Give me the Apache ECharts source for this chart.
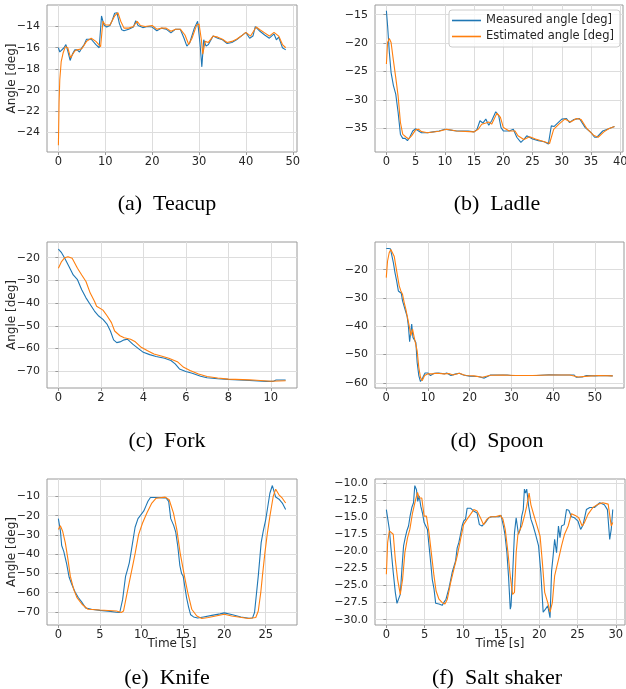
<!DOCTYPE html>
<html>
<head>
<meta charset="utf-8">
<script src="https://cdn.jsdelivr.net/npm/echarts@6/dist/echarts.min.js"></script>
<style>html,body{margin:0;padding:0;background:#fff}#chart{width:626px;height:689px}</style>
</head>
<body>
<div id="chart"></div>
<script>
// ---- data ----
var seriesNames = ['Measured angle [deg]', 'Estimated angle [deg]'];
var captions = ['(a)\u2002Teacup', '(b)\u2002Ladle', '(c)\u2002Fork', '(d)\u2002Spoon', '(e)\u2002Knife', '(f)\u2002Salt shaker'];

var teacupMeasT = [0,0.3,0.6,1.2,1.6,2.0,2.5,3.0,3.5,4.0,4.5,5,5.5,6,7,8,8.7,9.2,9.7,10.3,11,11.5,12,12.5,13,13.5,14,15,16,16.5,17,18,19,20,21,22,23,24,25,26,26.8,27.4,28,29,29.7,30.2,30.6,31,31.5,32,33,34,35,36,37,38,39,40,40.8,41.5,42,43,44,45,46,46.5,47,47.8,48.5];
var teacupMeas = [-16.0,-16.4,-16.5,-16.0,-15.7,-16.3,-17.2,-16.6,-16.2,-16.2,-16.4,-16.0,-15.7,-15.2,-15.2,-15.7,-16.0,-13.0,-13.85,-14.05,-13.9,-13.4,-12.75,-12.7,-13.7,-14.3,-14.4,-14.25,-14.05,-13.45,-13.9,-14.1,-14.0,-14.05,-14.4,-14.15,-14.25,-14.6,-14.25,-14.25,-15.1,-15.85,-15.55,-14.15,-13.5,-15.55,-17.8,-15.25,-15.85,-15.7,-14.9,-15.1,-15.25,-15.6,-15.5,-15.25,-14.9,-14.55,-15.1,-14.9,-14.0,-14.45,-14.8,-15.1,-14.7,-15.25,-15.0,-16.0,-16.2];
var teacupEstT = [0,0.15,0.3,0.6,1.0,1.5,2.0,2.6,3.0,3.5,4.0,5,6,7,8,9,9.5,10,11,12,12.7,13.3,14,15,16,16.8,17.5,18.5,20,21,22,23,24,25,26,27,27.8,28.5,29.5,30,30.5,30.8,31.3,32,33,34,35,36,37,38,39,40,41,42.2,43,44,45,46,47,47.8,48.5];
var teacupEst = [-25.2,-21.1,-19.0,-17.3,-16.5,-15.9,-16.0,-16.95,-16.8,-16.3,-16.2,-16.1,-15.4,-15.1,-15.4,-15.9,-13.5,-13.85,-13.85,-13.0,-12.7,-13.5,-14.15,-14.15,-14.0,-13.5,-13.9,-14.0,-13.9,-14.25,-14.15,-14.15,-14.45,-14.25,-14.25,-14.8,-15.7,-15.1,-13.85,-13.75,-15.25,-16.6,-15.4,-15.5,-14.9,-15.0,-15.2,-15.5,-15.4,-15.2,-14.9,-14.55,-14.9,-14.05,-14.3,-14.6,-14.9,-14.55,-14.9,-15.7,-16.0];

var ladleMeasT = [0,0.2,0.5,0.8,1.2,1.6,2.0,2.4,2.8,3.2,3.6,4,4.5,5,5.5,6,7,8,9,10,11,12,13,14,15,15.5,16,16.5,17,17.5,18,18.7,19.2,19.6,20,21,21.7,22.3,23,23.6,24,25,26,27,27.7,28.2,28.7,29.5,30,30.8,31.3,32,33,34,35,35.6,36,37,38,39];
var ladleMeas = [-14.3,-16.9,-21.6,-25.2,-27.5,-29.0,-32.2,-36.1,-36.8,-36.8,-37.2,-36.6,-35.5,-35.1,-35.5,-35.8,-35.8,-35.65,-35.5,-35.2,-35.35,-35.5,-35.5,-35.5,-35.65,-35.2,-33.7,-34.1,-33.4,-34.5,-33.7,-32.1,-32.8,-34.9,-35.5,-35.5,-35.2,-36.6,-37.5,-36.9,-36.35,-36.9,-37.2,-37.4,-37.8,-34.6,-34.7,-33.9,-33.4,-33.3,-34.0,-33.5,-33.3,-34.9,-35.8,-36.6,-36.6,-35.5,-35.1,-34.7];
var ladleEstT = [0,0.2,0.5,0.8,1.2,1.6,2.0,2.4,2.8,3.4,3.8,4.3,5,5.5,6,7,9,10.3,12,15,15.7,16.3,17,17.5,18,18.9,19.5,20,21,22,22.5,23.5,24.5,25.5,27,27.9,28.6,29.5,30.5,31.5,32.5,33.3,34.3,35.5,36.2,37.2,38,39];
var ladleEst = [-23.7,-19.9,-19.2,-19.9,-23.1,-26.1,-29.3,-34.0,-36.1,-36.6,-36.9,-36.35,-35.3,-35.2,-35.6,-35.8,-35.55,-35.2,-35.5,-35.65,-35.2,-34.3,-34.1,-33.9,-34.3,-32.35,-33.1,-34.9,-35.5,-35.5,-36.35,-37.0,-36.5,-36.9,-37.4,-37.7,-35.2,-34.3,-33.4,-33.9,-33.3,-33.5,-35.1,-36.3,-36.6,-35.65,-35.1,-34.7];

var forkMeasT = [0,0.15,0.3,0.5,0.7,0.9,1.1,1.3,1.5,1.7,1.9,2.1,2.3,2.45,2.6,2.75,2.9,3.1,3.25,3.5,3.8,4.0,4.3,4.6,5.0,5.3,5.5,5.7,6.0,6.3,6.7,7.0,7.5,8,9,9.8,10.1,10.25,10.7];
var forkMeas = [-16.2,-17.8,-20.3,-23.9,-27.6,-29.7,-34.1,-37.7,-40.6,-43.5,-45.7,-47.2,-49.4,-52.3,-56.2,-57.4,-57.1,-56.2,-55.9,-58.1,-60.3,-61.7,-62.7,-63.5,-64.3,-65.3,-66.8,-69.0,-70.1,-70.9,-72.2,-72.9,-73.3,-73.6,-74.1,-74.5,-74.5,-73.9,-73.9];
var forkEstT = [0,0.15,0.3,0.45,0.65,0.9,1.1,1.3,1.5,1.7,1.8,2.1,2.3,2.5,2.65,2.9,3.1,3.4,3.6,3.9,4.2,4.5,4.8,5.2,5.6,5.9,6.2,6.6,7.0,7.5,8,9,10,10.7];
var forkEst = [-24.65,-21.7,-20.0,-19.6,-20.3,-24.65,-27.6,-30.5,-35.6,-39.2,-41.4,-43.1,-45.7,-48.6,-52.3,-54.4,-55.3,-55.9,-56.9,-59.5,-61.0,-62.4,-63.2,-64.3,-65.8,-68.3,-69.7,-71.2,-72.3,-73.0,-73.5,-73.8,-74.4,-74.2];

var spoonMeasT = [0,0.5,1.0,1.4,1.7,2.1,2.5,2.9,3.3,3.6,3.9,4.2,4.6,5.0,5.3,5.6,5.9,6.1,6.4,6.8,7.1,7.4,7.8,8.2,8.7,9.3,10,10.6,11.5,12.5,14,14.5,15.5,16.5,17.5,18.5,20,22,23.5,25,27,29,30,33,36,39,42,45,45.5,47,48,50,52,54.3];
var spoonMeas = [-12.5,-12.5,-12.6,-13.1,-17.5,-21.1,-24.0,-27.5,-28.1,-28.3,-31.0,-31.6,-34.5,-36.5,-39.8,-45.4,-41.6,-39.2,-43.9,-43.3,-45.7,-52.7,-57.4,-59.5,-58.3,-56.5,-56.5,-57.4,-56.6,-56.5,-56.8,-56.5,-57.4,-56.9,-56.6,-57.2,-57.6,-57.75,-58.3,-57.2,-57.2,-57.2,-57.4,-57.4,-57.4,-57.1,-57.2,-57.2,-58.0,-57.9,-57.4,-57.5,-57.4,-57.5];
var spoonEstT = [0,0.3,0.7,1.1,1.5,1.9,2.3,2.7,3.1,3.5,3.9,4.3,4.7,5.1,5.5,5.9,6.3,6.7,7.1,7.4,7.8,8.2,8.6,9.2,10,11,12,14,15,16,17.5,19,21,23,25,28,31,35,39,44,46,48.5,51,54.3];
var spoonEst = [-22.8,-17.0,-14.0,-12.85,-13.1,-15.2,-18.7,-22.2,-25.7,-27.5,-28.7,-31.6,-34.0,-36.9,-39.8,-43.3,-41.0,-43.9,-44.5,-48.6,-54.5,-58.0,-59.2,-57.4,-56.8,-56.8,-56.6,-56.8,-56.7,-57.2,-56.6,-57.4,-57.5,-58.0,-57.3,-57.2,-57.4,-57.4,-57.2,-57.2,-57.9,-57.6,-57.4,-57.5];

var knifeMeasT = [0,0.25,0.4,0.65,1.0,1.3,1.6,2.0,2.4,2.8,3.3,4,5,6,7,7.4,7.6,7.75,7.95,8.1,8.3,8.55,8.8,9.0,9.25,9.6,9.9,10.3,10.55,10.8,11.1,11.7,12.7,13.0,13.3,13.55,13.9,14.15,14.4,14.65,14.85,15.05,15.25,15.45,15.7,15.95,16.3,16.8,17.5,18.5,19.5,20,21,22,23,23.4,23.65,24.1,24.45,24.7,25.0,25.25,25.5,25.8,26.0,26.2,26.6,27.0,27.4];
var knifeMeas = [-21.5,-28,-35.5,-38.5,-45,-52,-55.5,-59.5,-62.5,-64.8,-68,-68.6,-69.2,-69.6,-70.2,-70.3,-69.5,-63.5,-56.5,-51.5,-48.5,-44.5,-38,-37,-26,-21.5,-19.8,-17.5,-15,-12.5,-10.5,-10.5,-10.7,-10.8,-12.5,-21.5,-25,-28.5,-36,-46,-50,-51.5,-57,-62.5,-67.5,-71.5,-72.6,-73.2,-72.6,-71.8,-71.0,-70.5,-71.5,-72.6,-73.3,-73.2,-70.3,-51.4,-34,-28,-22,-15.2,-8.3,-4.3,-5.2,-10.3,-11.4,-13.4,-16.8];
var knifeEstT = [0,0.24,0.52,0.84,1.16,1.44,1.85,2.25,2.85,3.57,5,7,7.58,7.86,8.14,8.54,8.95,9.27,9.67,10.15,10.67,11.27,11.79,12.88,13.36,13.88,14.28,14.68,15.2,15.6,16.08,16.69,17.29,18.09,20,20.9,22.9,23.8,24.1,24.4,24.6,24.9,25.2,25.5,25.9,26.2,26.6,27.0,27.4];
var knifeEst = [-27.2,-25.2,-28.1,-34.1,-42.8,-51.4,-58.3,-62.6,-66,-68.6,-69.0,-69.5,-70.3,-69.5,-63.4,-54.8,-46.2,-39.3,-29.8,-23.8,-18.6,-13.4,-10.9,-10.3,-11.7,-18.6,-27.2,-39.3,-51.4,-60,-68.6,-72.1,-73.4,-72.9,-71.2,-72.1,-73.4,-72.9,-69.5,-60,-51.4,-39.3,-29,-20.3,-10,-6.2,-9.1,-10.9,-13.4];

var saltMeasT = [0,0.17,0.39,0.6,0.9,1.17,1.39,1.6,1.82,2.03,2.25,2.47,2.68,2.9,3.1,3.33,3.55,3.72,3.94,4.1,4.29,4.5,4.72,4.94,5.15,5.37,5.58,5.8,6.0,6.23,6.45,6.88,7.3,7.5,7.8,8.2,8.6,9.05,9.26,9.48,9.7,9.9,10.1,10.35,10.56,11.0,11.4,11.86,12.16,12.5,12.94,13.4,13.8,14.24,14.7,15.0,15.3,15.5,15.76,15.97,16.2,16.3,16.5,16.75,16.97,17.1,17.27,17.5,17.7,17.9,18.05,18.2,18.35,18.6,18.9,19.2,19.5,19.9,20.2,20.5,20.8,21.1,21.4,21.6,21.8,22.0,22.25,22.5,22.7,22.9,23.25,23.55,23.85,24.2,24.6,25.06,25.4,25.7,26.15,26.6,27.2,27.9,28.5,28.9,29.2,29.4,29.6];
var saltMeas = [-13.9,-14.1,-16.8,-19.5,-23.1,-26.0,-27.6,-27.35,-26.3,-22.6,-19.2,-18.0,-17.0,-16.3,-14.85,-13.6,-12.9,-10.4,-11.0,-12.7,-11.9,-13.4,-14.4,-15.8,-15.6,-16.8,-19.2,-21.65,-24.1,-25.5,-27.6,-27.7,-27.9,-27.5,-27.0,-25.3,-23.1,-21.4,-19.5,-18.7,-17.5,-16.3,-15.6,-15.3,-13.7,-13.7,-14.1,-14.4,-16.1,-16.3,-15.8,-15.1,-14.95,-14.95,-14.95,-14.75,-16.3,-17.5,-20.2,-23.6,-28.45,-27.96,-23.6,-17.3,-15.1,-15.1,-17.5,-16.8,-14.85,-13.9,-10.9,-11.5,-10.9,-13.4,-15.3,-16.3,-17.5,-19.2,-23.1,-28.9,-28.45,-27.96,-29.7,-22.9,-20.7,-18.25,-20.2,-16.3,-18.0,-16.3,-16.1,-13.9,-14.0,-14.95,-15.1,-15.6,-16.8,-16.2,-13.9,-13.6,-13.6,-12.9,-13.2,-13.9,-18.25,-16.8,-13.9];
var saltEstT = [0,0.17,0.39,0.6,0.9,1.17,1.47,1.82,2.12,2.42,2.77,3.07,3.42,3.77,4.07,4.29,4.63,4.94,5.24,5.58,5.93,6.23,6.5,6.88,7.3,7.66,7.97,8.4,8.83,9.26,9.7,10.1,10.56,11.0,11.43,11.86,12.3,12.7,13.16,13.6,14.24,14.9,15.24,15.54,15.9,16.2,16.5,16.75,16.97,17.2,17.4,17.7,18.05,18.35,18.66,18.9,19.2,19.65,20.1,20.4,20.7,21.1,21.4,21.7,22.0,22.5,22.9,23.3,23.77,24.2,24.7,25.15,25.6,25.9,26.36,27.0,27.7,28.3,29.0,29.4,29.6];
var saltEst = [-23.35,-18.7,-17.0,-17.15,-17.5,-21.2,-24.1,-26.3,-24.1,-20.2,-18.0,-16.8,-14.4,-12.7,-11.4,-12.2,-12.2,-14.85,-14.85,-17.3,-20.7,-23.6,-25.8,-27.0,-27.5,-27.7,-27.0,-24.6,-22.6,-20.7,-18.25,-16.1,-15.3,-14.6,-13.9,-14.1,-15.1,-16.1,-15.3,-14.95,-14.95,-14.75,-15.3,-16.8,-20.2,-23.6,-26.3,-26.0,-20.2,-17.5,-17.5,-16.3,-14.85,-13.4,-11.5,-13.2,-14.4,-16.1,-17.8,-21.65,-26.0,-27.5,-28.9,-27.5,-23.6,-21.2,-19.2,-17.5,-16.3,-14.5,-14.75,-15.1,-16.3,-15.8,-14.6,-13.6,-13.1,-12.9,-13.1,-16.3,-15.8];

// tick labels
var teacupXTicks = [0,10,20,30,40,50], teacupYTicks = [-24,-22,-20,-18,-16,-14];
var ladleXTicks = [0,5,10,15,20,25,30,35,40], ladleYTicks = [-35,-30,-25,-20,-15];
var forkXTicks = [0,2,4,6,8,10], forkYTicks = [-70,-60,-50,-40,-30,-20];
var spoonXTicks = [0,10,20,30,40,50], spoonYTicks = [-60,-50,-40,-30,-20];
var knifeXTicks = [0,5,10,15,20,25], knifeYTicks = [-70,-60,-50,-40,-30,-20,-10];
var saltXTicks = [0,5,10,15,20,25,30], saltYTicks = [-30,-27.5,-25,-22.5,-20,-17.5,-15,-12.5,-10];

// ---- chart ----
var myChart = echarts.init(document.getElementById('chart'));
var BLUE = '#1f77b4', ORANGE = '#ff7f0e';
var tickFont = 'DejaVu Sans';

function pairs(t, v) {
  return t.map(function (x, i) { return [x, v[i]]; });
}
function minus(s) { return String(s).replace('-', '\u2212'); }

var panels = [
  { box: [47, 5, 250, 147], x: [-2.43, 50.9], y: [-25.83, -11.97], xt: teacupXTicks, yt: teacupYTicks,
    m: [teacupMeasT, teacupMeas], e: [teacupEstT, teacupEst], ylab: true },
  { box: [375, 5, 248, 147], x: [-1.95, 40.46], y: [-39.2, -13.3], xt: ladleXTicks, yt: ladleYTicks,
    m: [ladleMeasT, ladleMeas], e: [ladleEstT, ladleEst] },
  { box: [47, 242, 250, 146], x: [-0.535, 11.235], y: [-77.4, -13.1], xt: forkXTicks, yt: forkYTicks,
    m: [forkMeasT, forkMeas], e: [forkEstT, forkEst], ylab: true },
  { box: [375, 242, 249, 146], x: [-2.7, 57.0], y: [-61.8, -10.2], xt: spoonXTicks, yt: spoonYTicks,
    m: [spoonMeasT, spoonMeas], e: [spoonEstT, spoonEst] },
  { box: [47, 479, 250, 146], x: [-1.37, 28.77], y: [-76.8, -0.9], xt: knifeXTicks, yt: knifeYTicks,
    m: [knifeMeasT, knifeMeas], e: [knifeEstT, knifeEst], ylab: true, xlab: true },
  { box: [375, 479, 250, 146], x: [-1.485, 31.2], y: [-30.77, -9.43], xt: saltXTicks, yt: saltYTicks,
    m: [saltMeasT, saltMeas], e: [saltEstT, saltEst], xlab: true, dec: true }
];

var grids = [], xAxes = [], yAxes = [], series = [], graphics = [];
var captionPos = [[167, 193], [497, 193], [167, 430], [497, 430], [167, 667], [497, 667]];

panels.forEach(function (p, i) {
  grids.push({
    left: p.box[0], top: p.box[1], width: p.box[2], height: p.box[3],
    show: true, borderColor: '#9a9a9a', borderWidth: 1, outerBoundsMode: 'none'
  });
  var axisCommon = {
    type: 'value', gridIndex: i,
    axisLine: { show: false },
    splitLine: { show: true, lineStyle: { color: '#dddddd', width: 1 } },
    nameMoveOverlap: false,
    nameTextStyle: { fontFamily: tickFont, fontSize: 12, color: '#262626' }
  };
  xAxes.push(Object.assign({}, axisCommon, {
    min: p.x[0], max: p.x[1],
    axisTick: { show: true, length: 3, lineStyle: { color: '#9a9a9a' }, customValues: p.xt },
    axisLabel: { customValues: p.xt, margin: 4, fontFamily: tickFont, fontSize: 11.5, color: '#262626',
      formatter: function (v) { return minus(v); } },
    name: p.xlab ? 'Time [s]' : '', nameLocation: 'middle', nameGap: 13
  }));
  yAxes.push(Object.assign({}, axisCommon, {
    min: p.y[0], max: p.y[1],
    axisTick: { show: true, length: 3, lineStyle: { color: '#9a9a9a' }, customValues: p.yt },
    axisLabel: { customValues: p.yt, margin: 7, fontFamily: tickFont, fontSize: 11, color: '#262626',
      formatter: function (v) { return minus(p.dec ? v.toFixed(1) : v); } },
    name: p.ylab ? 'Angle [deg]' : '', nameLocation: 'middle', nameGap: 29
  }));
  series.push({
    name: seriesNames[0], type: 'line', xAxisIndex: i, yAxisIndex: i,
    data: pairs(p.m[0], p.m[1]), showSymbol: false, symbol: 'none',
    lineStyle: { color: BLUE, width: 1.1 }, itemStyle: { color: BLUE }, z: 2
  });
  series.push({
    name: seriesNames[1], type: 'line', xAxisIndex: i, yAxisIndex: i,
    data: pairs(p.e[0], p.e[1]), showSymbol: false, symbol: 'none',
    lineStyle: { color: ORANGE, width: 1.1 }, itemStyle: { color: ORANGE }, z: 3
  });
  graphics.push({
    type: 'text', x: captionPos[i][0], y: captionPos[i][1],
    style: { text: captions[i], textAlign: 'center', textVerticalAlign: 'top',
      fontFamily: 'Liberation Serif', fontSize: 22, fill: '#000' }
  });
});

option = {
  animation: false,
  backgroundColor: '#fff',
  grid: grids,
  xAxis: xAxes,
  yAxis: yAxes,
  series: series,
  graphic: graphics,
  legend: {
    data: seriesNames, orient: 'vertical', left: 449, top: 10,
    icon: 'rect', itemWidth: 29, itemHeight: 1.6, itemGap: 3,
    padding: [4, 6, 4, 3],
    borderColor: '#cccccc', borderWidth: 1, borderRadius: 3,
    backgroundColor: 'rgba(255,255,255,0.8)',
    textStyle: { fontFamily: tickFont, fontSize: 11.5, color: '#262626', lineHeight: 13 }
  }
};
myChart.setOption(option);
window.addEventListener('resize', function () {
  myChart.resize();
});
</script>
</body>
</html>
